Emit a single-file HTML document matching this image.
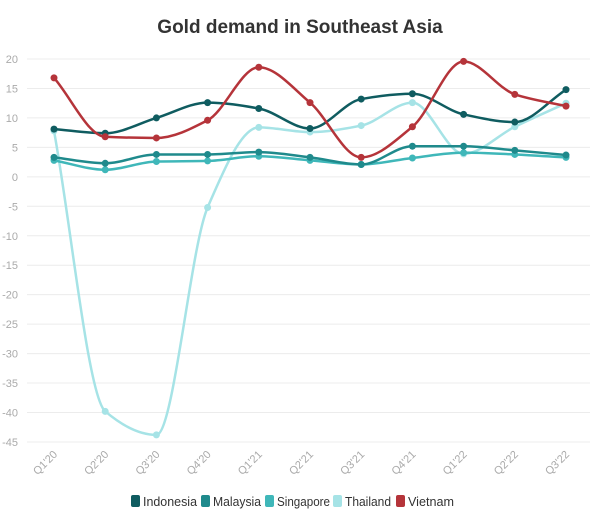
<!DOCTYPE html>
<html><head><meta charset="utf-8"><style>
body{margin:0;background:#fff;width:600px;height:518px;overflow:hidden;font-family:"Liberation Sans",sans-serif}
</style></head><body>
<svg id="s" width="600" height="518" xmlns="http://www.w3.org/2000/svg" font-family="Liberation Sans, sans-serif">
<text x="300" y="33" text-anchor="middle" font-size="19" font-weight="bold" fill="#333">Gold demand in Southeast Asia</text>
<g id="grid"></g><g id="lines"></g>
<g font-size="13" fill="#333">
<rect x="131" y="495" width="9" height="12" rx="2" fill="#0f5c60"/><text x="143" y="506" textLength="54" lengthAdjust="spacingAndGlyphs">Indonesia</text>
<rect x="201" y="495" width="9" height="12" rx="2" fill="#1f8a8c"/><text x="213" y="506" textLength="48" lengthAdjust="spacingAndGlyphs">Malaysia</text>
<rect x="265" y="495" width="9" height="12" rx="2" fill="#3fb7b9"/><text x="277" y="506" textLength="53" lengthAdjust="spacingAndGlyphs">Singapore</text>
<rect x="333" y="495" width="9" height="12" rx="2" fill="#a6e3e6"/><text x="345" y="506" textLength="46" lengthAdjust="spacingAndGlyphs">Thailand</text>
<rect x="396" y="495" width="9" height="12" rx="2" fill="#b5343a"/><text x="408" y="506" textLength="46" lengthAdjust="spacingAndGlyphs">Vietnam</text>
</g>
</svg>
<script>
function Y(v){return 59+(20-v)*5.892}
function X(i){return 54+i*51.2}
var g=document.getElementById('grid'),h='';
for(var v=20;v>=-45;v-=5){var y=Y(v);h+='<line x1="27" x2="590" y1="'+y+'" y2="'+y+'" stroke="#ececec"/><text x="18" y="'+(y+4)+'" text-anchor="end" font-size="11" fill="#aaa">'+v+'</text>';}
var q=["Q1'20","Q2'20","Q3'20","Q4'20","Q1'21","Q2'21","Q3'21","Q4'21","Q1'22","Q2'22","Q3'22"];
for(var i=0;i<11;i++){var x=X(i);h+='<text transform="translate('+(x+4)+',455) rotate(-45)" text-anchor="end" font-size="11" fill="#aaa">'+q[i]+'</text>';}
g.innerHTML=h;
var S=[
["#a6e3e6",[7.8,-39.8,-43.8,-5.2,8.4,7.6,8.7,12.6,3.9,8.5,12.5]],
["#3fb7b9",[2.8,1.2,2.6,2.7,3.5,2.8,2.1,3.2,4.1,3.8,3.3]],
["#1f8a8c",[3.3,2.3,3.8,3.8,4.2,3.3,2.1,5.2,5.2,4.5,3.7]],
["#0f5c60",[8.1,7.4,10,12.6,11.6,8.2,13.2,14.1,10.6,9.3,14.8]],
["#b5343a",[16.8,6.8,6.6,9.6,18.6,12.6,3.3,8.5,19.6,14.0,12.0]]];
function mono(p){var n=p.length,dx=51.2,d=[],m=[];
for(var i=0;i<n-1;i++)d.push((p[i+1][1]-p[i][1])/dx);
m[0]=d[0];m[n-1]=d[n-2];
for(var i=1;i<n-1;i++){if(d[i-1]*d[i]<=0)m[i]=0;else m[i]=2/(1/d[i-1]+1/d[i]);}
var s='M'+p[0][0]+','+p[0][1];
for(var i=0;i<n-1;i++){s+=' C'+(p[i][0]+dx/3)+','+(p[i][1]+m[i]*dx/3)+' '+(p[i+1][0]-dx/3)+','+(p[i+1][1]-m[i+1]*dx/3)+' '+p[i+1][0]+','+p[i+1][1];}
return s;}
var L='';
S.forEach(function(s){var p=s[1].map(function(v,i){return[X(i),Y(v)]});
L+='<path d="'+mono(p)+'" fill="none" stroke="'+s[0]+'" stroke-width="2.5"/>';
p.forEach(function(q){L+='<circle cx="'+q[0]+'" cy="'+q[1]+'" r="3.5" fill="'+s[0]+'"/>'});});
document.getElementById('lines').innerHTML=L;
</script>
</body></html>
